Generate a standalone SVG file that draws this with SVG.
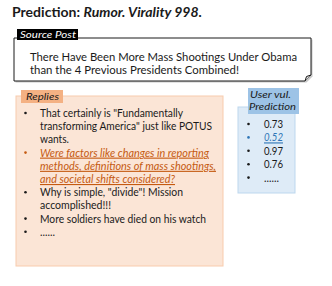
<svg xmlns="http://www.w3.org/2000/svg" width="332" height="286" viewBox="0 0 332 286">
<style>
  text { font-family: Lato, "Open Sans", "Liberation Sans", sans-serif; fill: #1a1a1a; }
  .title { font-size: 14px; font-weight: bold; }
  .body { font-size: 11px; }
  .tag { font-size: 10px; font-style: italic; }
  .hl-o { fill: #c55a11; font-style: italic; text-decoration: underline; }
  .hl-b { fill: #2e75b6; font-style: italic; text-decoration: underline; }
  .dot { fill: #1a1a1a; }
</style>
<rect width="332" height="286" fill="#ffffff"/>
<g id="title">
  <text class="title" x="12" y="17" textLength="190" lengthAdjust="spacingAndGlyphs">Prediction: <tspan font-style="italic">Rumor. Virality 998.</tspan></text>
</g>
<g id="source-post">
  <path d="M15.5,39.5 H312.5 V76.5 L306.5,82.5 H15.5 Z" fill="#c8c8c8"/>
  <path d="M14,38 H311 V75 L305,81 H14 Z" fill="#ffffff" stroke="#1a1a1a" stroke-width="1"/>
  <path d="M305,81 L306.5,76.5 L311,75" fill="#e6e6e6" stroke="#1a1a1a" stroke-width="1"/>
  <rect x="17" y="29" width="61" height="11" fill="#000000"/>
  <text class="tag" x="20" y="37.5" textLength="56" lengthAdjust="spacingAndGlyphs" style="fill:#ffffff">Source Post</text>
  <text class="body" x="30" y="61" textLength="267" lengthAdjust="spacingAndGlyphs">There Have Been More Mass Shootings Under Obama</text>
  <text class="body" x="30" y="74.2" textLength="209" lengthAdjust="spacingAndGlyphs">than the 4 Previous Presidents Combined!</text>
</g>
<g id="replies">
  <rect x="16" y="96" width="207" height="170" fill="#fbe5d6" stroke="#f8cbad" stroke-width="1"/>
  <rect x="21" y="90" width="42" height="13" fill="#f4b183"/>
  <text class="tag" x="26" y="100" textLength="33" lengthAdjust="spacingAndGlyphs">Replies</text>
  <circle class="dot" cx="25.5" cy="113" r="1.3"/>
  <text class="body" x="40" y="117" textLength="143" lengthAdjust="spacingAndGlyphs">That certainly is "Fundamentally</text>
  <text class="body" x="40" y="130.2" textLength="172" lengthAdjust="spacingAndGlyphs">transforming America" just like POTUS</text>
  <text class="body" x="40" y="143.4" textLength="29" lengthAdjust="spacingAndGlyphs">wants.</text>
  <circle cx="25.5" cy="152.6" r="1.3" fill="#c55a11"/>
  <text class="body hl-o" x="40" y="156.6" textLength="169" lengthAdjust="spacingAndGlyphs">Were factors like changes in reporting</text>
  <text class="body hl-o" x="40" y="169.8" textLength="176" lengthAdjust="spacingAndGlyphs">methods, definitions of mass shootings,</text>
  <text class="body hl-o" x="40" y="183" textLength="135" lengthAdjust="spacingAndGlyphs">and societal shifts considered?</text>
  <circle class="dot" cx="25.5" cy="192.2" r="1.3"/>
  <text class="body" x="40" y="196.2" textLength="143" lengthAdjust="spacingAndGlyphs">Why is simple, "divide"! Mission</text>
  <text class="body" x="40" y="209.4" textLength="71" lengthAdjust="spacingAndGlyphs">accomplished!!!</text>
  <circle class="dot" cx="25.5" cy="218.6" r="1.3"/>
  <text class="body" x="40" y="222.6" textLength="166" lengthAdjust="spacingAndGlyphs">More soldiers have died on his watch</text>
  <circle class="dot" cx="25.5" cy="231.8" r="1.3"/>
  <text class="body" x="40" y="235.8" textLength="15" lengthAdjust="spacingAndGlyphs">......</text>
</g>
<g id="user-vul">
  <rect x="238" y="107" width="57" height="86" fill="#deebf7" stroke="#bdd7ee" stroke-width="1"/>
  <rect x="248" y="88" width="51" height="26" fill="#9dc3e6"/>
  <text class="tag" x="250" y="98" textLength="41" lengthAdjust="spacingAndGlyphs" style="font-size:9.5px">User vul.</text>
  <text class="tag" x="249" y="109.5" textLength="47" lengthAdjust="spacingAndGlyphs" style="font-size:9.5px">Prediction</text>
  <circle class="dot" cx="248.5" cy="124" r="1.3"/>
  <text class="body" x="264" y="128" textLength="19" lengthAdjust="spacingAndGlyphs">0.73</text>
  <circle cx="248.5" cy="137.4" r="1.3" fill="#2e75b6"/>
  <text class="body hl-b" x="264" y="141.4" textLength="19" lengthAdjust="spacingAndGlyphs">0.52</text>
  <circle class="dot" cx="248.5" cy="150.8" r="1.3"/>
  <text class="body" x="264" y="154.8" textLength="19" lengthAdjust="spacingAndGlyphs">0.97</text>
  <circle class="dot" cx="248.5" cy="164.2" r="1.3"/>
  <text class="body" x="264" y="168.2" textLength="19" lengthAdjust="spacingAndGlyphs">0.76</text>
  <circle class="dot" cx="248.5" cy="177.6" r="1.3"/>
  <text class="body" x="264" y="181.6" textLength="15" lengthAdjust="spacingAndGlyphs">......</text>
</g>
<g id="connectors"></g>
</svg>
